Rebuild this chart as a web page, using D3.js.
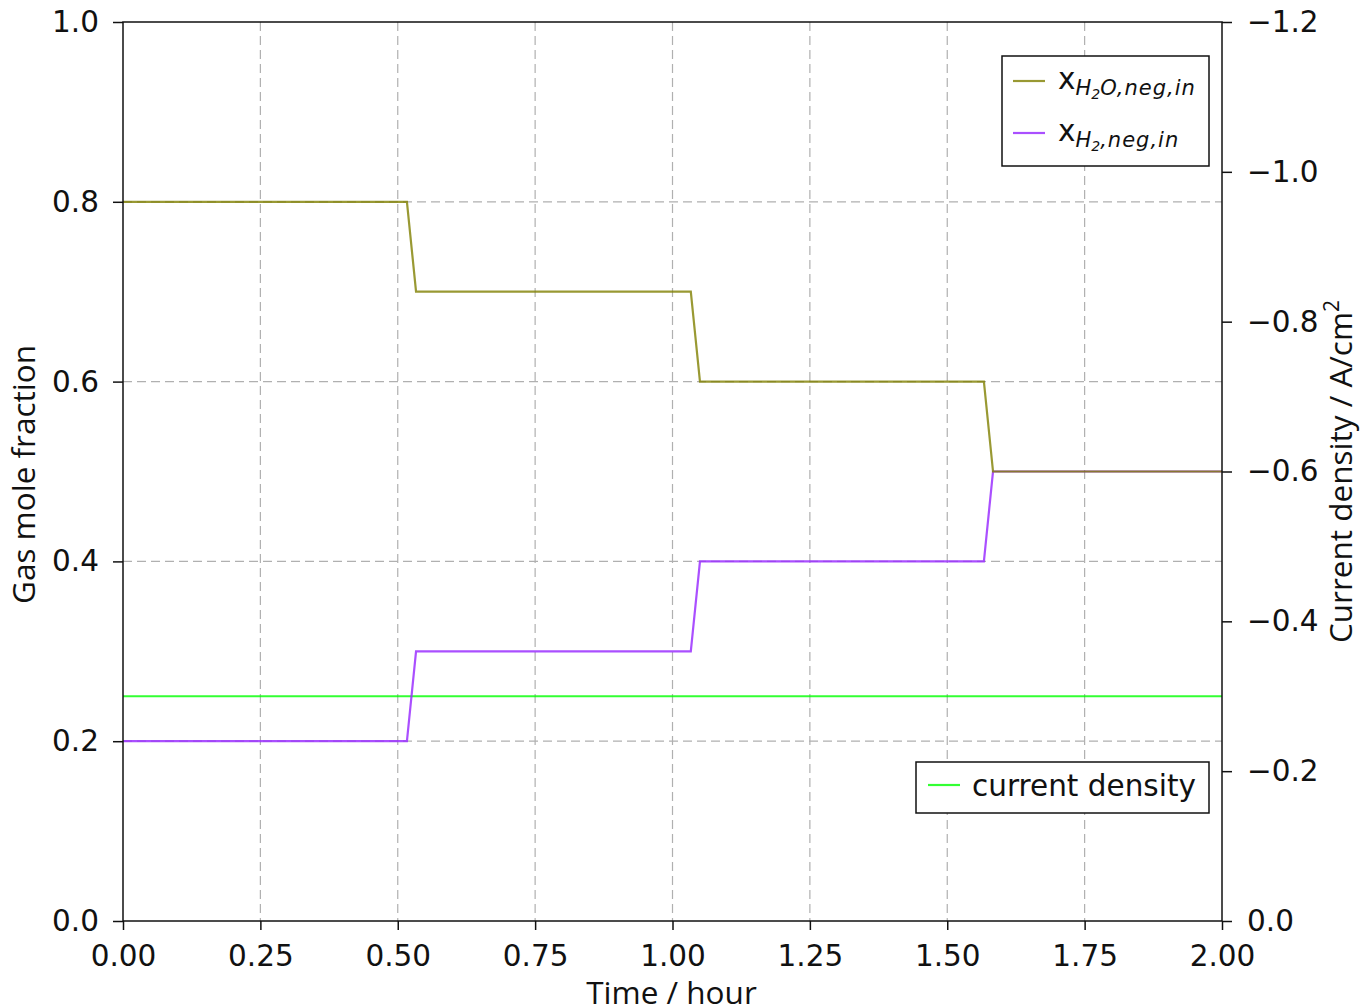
<!DOCTYPE html>
<html><head><meta charset="utf-8">
<script src="https://cdn.jsdelivr.net/npm/d3@7"></script>
<style>body{margin:0;background:#fff}svg{display:block}</style>
</head><body>
<script>
// Data
const timeH2O = [0, 0.5167, 0.5333, 1.0333, 1.05, 1.5667, 1.5833, 2.0];
const xH2O    = [0.8, 0.8, 0.7, 0.7, 0.6, 0.6, 0.5, 0.5];
const timeH2  = [0, 0.5167, 0.5333, 1.0333, 1.05, 1.5667, 1.5833, 2.0];
const xH2     = [0.2, 0.2, 0.3, 0.3, 0.4, 0.4, 0.5, 0.5];
const timeCD  = [0, 2.0];
const currentDensity = [-0.3, -0.3];
const xTicks = [0, 0.25, 0.5, 0.75, 1.0, 1.25, 1.5, 1.75, 2.0];
const yTicks = [0, 0.2, 0.4, 0.6, 0.8, 1.0];
const y2Ticks = [0, -0.2, -0.4, -0.6, -0.8, -1.0, -1.2];

const W = 1370, H = 1008;
const L = 123, R = 1222, T = 22, B = 921;
const svg = d3.select("body").append("svg").attr("width", W).attr("height", H);

const x = d3.scaleLinear().domain([0, 2]).range([L, R]);
const y = d3.scaleLinear().domain([0, 1]).range([B, T]);
const y2 = d3.scaleLinear().domain([0, -1.2]).range([B, T]);

const tickFont = "DejaVu Sans, sans-serif";
const labFont = "'Open Sans', 'Noto Sans', sans-serif";
const tickSize = 29.5;

// Grid
const grid = svg.append("g").attr("stroke", "#b0b0b0").attr("stroke-width", 1.2).attr("stroke-dasharray", "9,5");
grid.selectAll(".gx").data(xTicks.slice(1, -1)).enter().append("line")
  .attr("x1", d => x(d)).attr("x2", d => x(d)).attr("y1", T).attr("y2", B);
grid.selectAll(".gy").data(yTicks.slice(1, -1)).enter().append("line")
  .attr("y1", d => y(d)).attr("y2", d => y(d)).attr("x1", L).attr("x2", R);

// Lines
const line = (xs, ys, sy) => d3.line().x((d, i) => x(xs[i])).y((d) => sy(d))(ys);
svg.append("path").attr("d", line(timeCD, currentDensity, y2)).attr("fill", "none")
  .attr("stroke", "#00ff00").attr("stroke-opacity", 0.8).attr("stroke-width", 2.2);
svg.append("path").attr("d", line(timeH2, xH2, y)).attr("fill", "none")
  .attr("stroke", "#9b30ff").attr("stroke-opacity", 0.85).attr("stroke-width", 2.2);
svg.append("path").attr("d", line(timeH2O, xH2O, y)).attr("fill", "none")
  .attr("stroke", "#808000").attr("stroke-opacity", 0.8).attr("stroke-width", 2.2);

// Axes
const fmt2 = d3.format(".2f"), fmt1 = d3.format(".1f");
const gx = svg.append("g").attr("transform", `translate(0,${B})`)
  .call(d3.axisBottom(x).tickValues(xTicks).tickFormat(fmt2).tickSize(9).tickPadding(15));
const gy = svg.append("g").attr("transform", `translate(${L},0)`)
  .call(d3.axisLeft(y).tickValues(yTicks).tickFormat(fmt1).tickSize(10).tickPadding(14));
const gy2 = svg.append("g").attr("transform", `translate(${R},0)`)
  .call(d3.axisRight(y2).tickValues(y2Ticks).tickFormat(d => fmt1(d).replace("-", "\u2212")).tickSize(10).tickPadding(15));
[gx, gy, gy2].forEach(g => {
  g.selectAll("text").attr("font-family", tickFont).attr("font-size", tickSize).attr("fill", "#111");
  g.selectAll("line").attr("stroke", "#111").attr("stroke-width", 1.5);
  g.select(".domain").remove();
});
// Frame
svg.append("rect").attr("x", L).attr("y", T).attr("width", R - L).attr("height", B - T)
  .attr("fill", "none").attr("stroke", "#111").attr("stroke-width", 1.5);

// Axis labels
svg.append("text").attr("x", (L + R) / 2 - 1).attr("y", 1004).attr("text-anchor", "middle")
  .attr("font-family", labFont).attr("font-size", 31.5).attr("fill", "#111").text("Time / hour");
svg.append("text").attr("transform", `translate(35,${(T + B) / 2 + 3}) rotate(-90)`).attr("text-anchor", "middle")
  .attr("font-family", labFont).attr("font-size", 31.5).attr("fill", "#111").text("Gas mole fraction");
const t2 = svg.append("text").attr("transform", `translate(1352,${(T + B) / 2}) rotate(-90)`).attr("text-anchor", "middle")
  .attr("font-family", labFont).attr("font-size", 31.5).attr("fill", "#111");
t2.append("tspan").text("Current density / A/cm");
t2.append("tspan").attr("dy", -13).attr("font-size", 21).text("2");

// Legend 1
const lg1 = svg.append("g");
lg1.append("rect").attr("x", 1002).attr("y", 56).attr("width", 207).attr("height", 110)
  .attr("fill", "#fff").attr("stroke", "#111").attr("stroke-width", 1.5);
const leg1 = [
  {c: "#808000", o: 0.8, y: 81, sub: "H", sub2: "2", tail: "O,neg,in"},
  {c: "#9b30ff", o: 0.85, y: 133, sub: "H", sub2: "2", tail: ",neg,in"}
];
leg1.forEach(d => {
  lg1.append("line").attr("x1", 1013).attr("x2", 1045).attr("y1", d.y).attr("y2", d.y)
    .attr("stroke", d.c).attr("stroke-opacity", d.o).attr("stroke-width", 2.2);
  const t = lg1.append("text").attr("x", 1058).attr("y", d.y + 8).attr("font-family", tickFont)
    .attr("font-size", tickSize).attr("fill", "#111");
  t.append("tspan").text("x");
  t.append("tspan").attr("dy", 6).attr("font-size", 21).attr("font-style", "italic").text(d.sub);
  t.append("tspan").attr("dy", 4).attr("font-size", 14).attr("font-style", "italic").text(d.sub2);
  t.append("tspan").attr("dy", -4).attr("font-size", 21).attr("font-style", "italic")
    .attr("letter-spacing", 1).text(d.tail);
});

// Legend 2
const lg2 = svg.append("g");
lg2.append("rect").attr("x", 916).attr("y", 762).attr("width", 293).attr("height", 51)
  .attr("fill", "#fff").attr("stroke", "#111").attr("stroke-width", 1.5);
lg2.append("line").attr("x1", 928).attr("x2", 960).attr("y1", 785).attr("y2", 785)
  .attr("stroke", "#00ff00").attr("stroke-opacity", 0.8).attr("stroke-width", 2.2);
lg2.append("text").attr("x", 972).attr("y", 796).attr("font-family", tickFont).attr("font-size", tickSize)
  .attr("fill", "#111").text("current density");
</script>
</body></html>
